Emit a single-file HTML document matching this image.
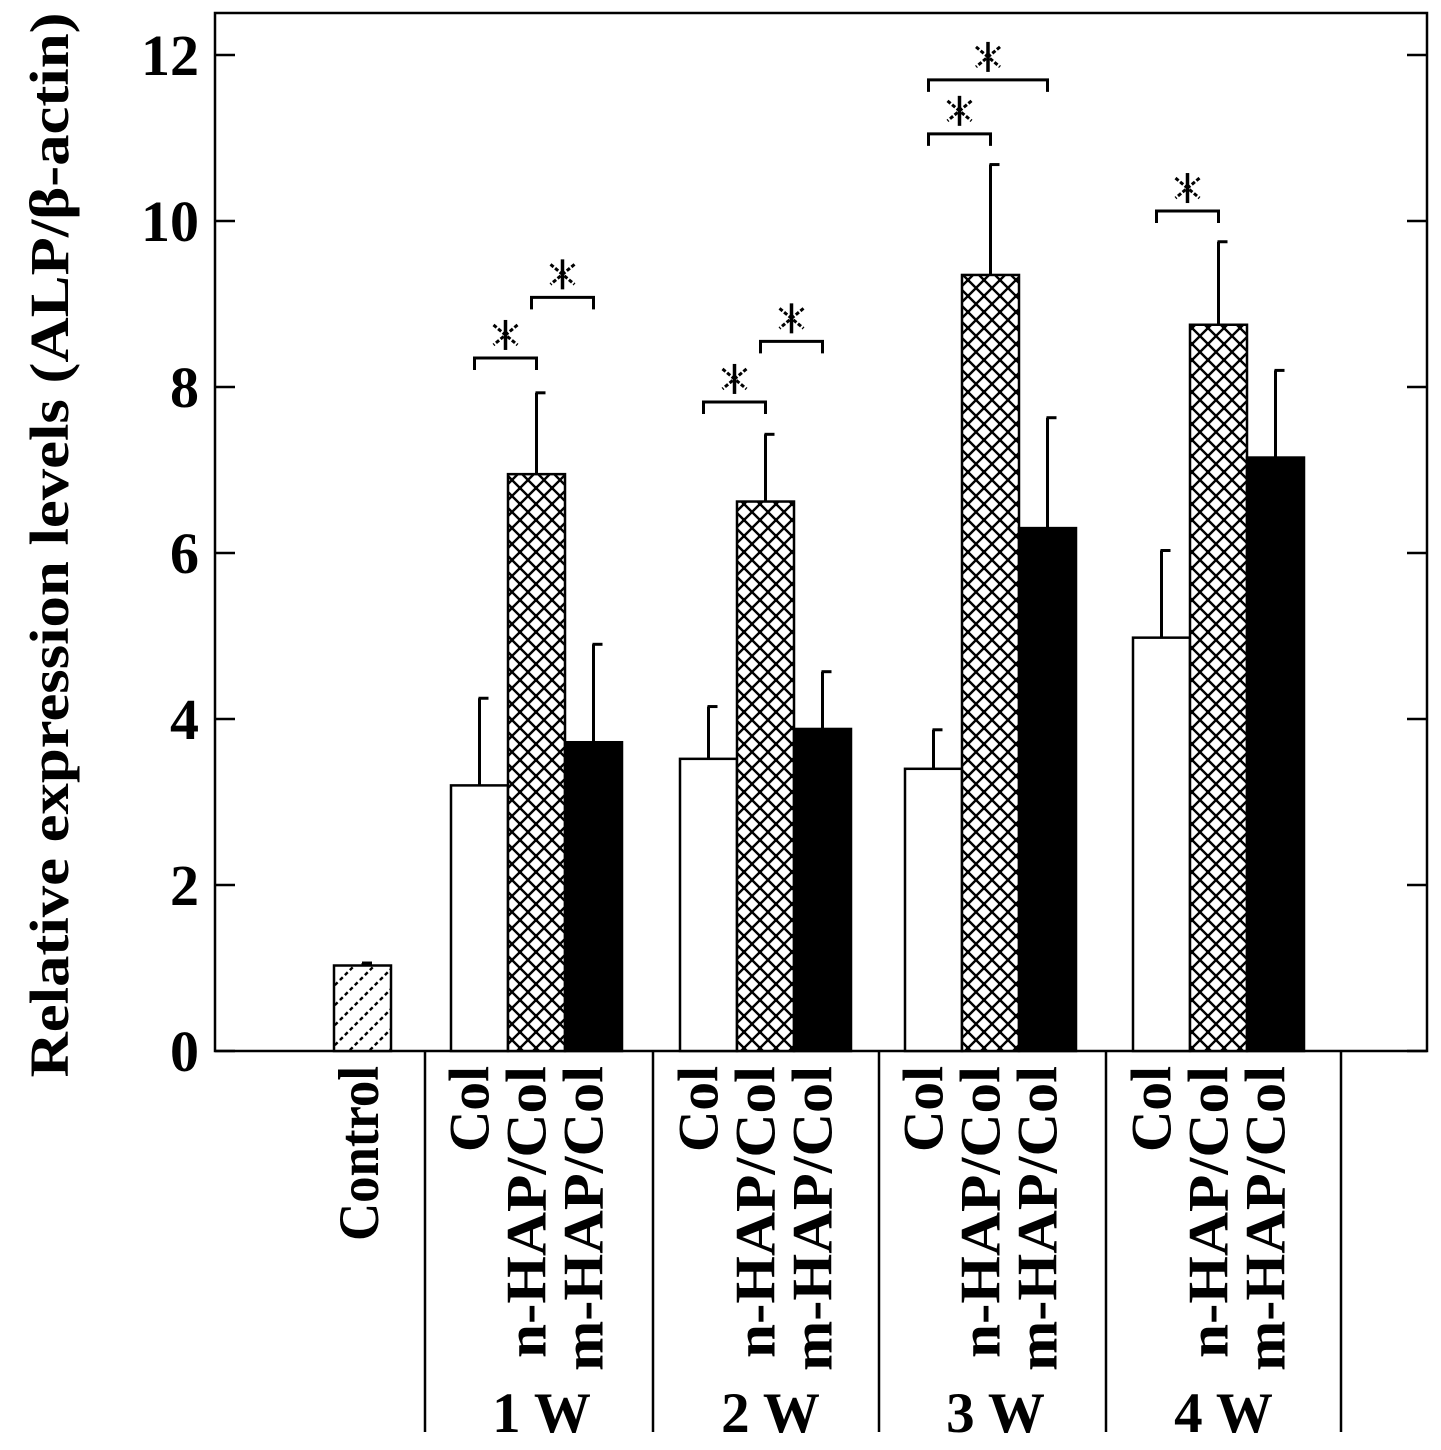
<!DOCTYPE html>
<html><head><meta charset="utf-8"><style>
html,body{margin:0;padding:0;background:#fff;}
svg{display:block;}
text{font-family:"Liberation Serif",serif;font-weight:bold;fill:#000;}
</style></head><body>
<svg id="chart" width="1441" height="1450" viewBox="0 0 1441 1450" xmlns="http://www.w3.org/2000/svg">
<defs>
<pattern id="cross" patternUnits="userSpaceOnUse" width="16" height="16">
<rect width="16" height="16" fill="#fff"/>
<path d="M0,0 L16,16 M16,0 L0,16" stroke="#000" stroke-width="2.4"/>
<rect x="6" y="6" width="4" height="4" fill="#000"/>
</pattern>
<pattern id="diag" patternUnits="userSpaceOnUse" width="20" height="20">
<rect width="20" height="20" fill="#fff"/>
<path d="M-5,25 L25,-5 M-5,5 L5,-5 M15,25 L25,15" stroke="#000" stroke-width="2.4" stroke-dasharray="4,3"/>
</pattern>
</defs>
<g id="plot"></g>
</svg>
<script>
const groups = ["Control","1 W","2 W","3 W","4 W"];
const seriesNames = ["Col","n-HAP/Col","m-HAP/Col"];
const controlValue = 1.03;
const controlErr = 1.06;
const colValues = [3.2, 3.52, 3.4, 4.98];
const colErr = [4.25, 4.15, 3.87, 6.03];
const nhapValues = [6.95, 6.62, 9.35, 8.75];
const nhapErr = [7.93, 7.43, 10.68, 9.75];
const mhapValues = [3.72, 3.88, 6.3, 7.15];
const mhapErr = [4.9, 4.57, 7.63, 8.2];
const yTicks = [0,2,4,6,8,10,12];
// significance: [groupIndex, barA, barB, value level]
const sigPairs = [[0,0,1,8.35],[0,1,2,9.08],[1,0,1,7.82],[1,1,2,8.55],[2,0,1,11.05],[2,0,2,11.7],[3,0,1,10.12]];

const NS="http://www.w3.org/2000/svg";
const g=document.getElementById('plot');
const L=215,R=1427,T=13,B=1051;
const y=v=>B-v*83;
const groupStart=[451,680,905,1133];
const bw=57;
const barX=(gi,bi)=>groupStart[gi]+bi*bw;
function el(tag,attrs,parent){const e=document.createElementNS(NS,tag);for(const k in attrs)e.setAttribute(k,attrs[k]);(parent||g).appendChild(e);return e;}

const frame=el('rect',{x:L,y:T,width:R-L,height:B-T,fill:'none',stroke:'#000','stroke-width':2.5});



yTicks.forEach(t=>{
  const tl=el('line',{x1:L,x2:L+20,y1:y(t),y2:y(t),stroke:'#000','stroke-width':2.5});
  
  
  const tr=el('line',{x1:R-20,x2:R,y1:y(t),y2:y(t),stroke:'#000','stroke-width':2.5});
  
  
  const tx=el('text',{x:199,y:y(t)+20,'text-anchor':'end','font-size':58});
  tx.textContent=t;
  
  
});

const yt=el('text',{transform:'translate(68,545) rotate(-90)','text-anchor':'middle','font-size':55,textLength:1065,lengthAdjust:'spacingAndGlyphs'});
yt.textContent='Relative expression levels (ALP/\u03b2-actin)';



function errBar(cx,top,base){
  const a=el('line',{x1:cx,x2:cx,y1:y(top),y2:y(base),stroke:'#000','stroke-width':3});
  
  
  const c=el('line',{x1:cx-1,x2:cx+9,y1:y(top),y2:y(top),stroke:'#000','stroke-width':3});
  
  
}
function bar(x,v,fill,name){
  const r=el('rect',{x:x,y:y(v),width:bw,height:B-y(v),fill:fill,stroke:'#000','stroke-width':2.5});
  
  
}
errBar(363,controlErr,controlValue);
bar(334,controlValue,'url(#diag)','bar-control');
const fills=['#fff','url(#cross)','#000'];
const vals=[colValues,nhapValues,mhapValues];
const errs=[colErr,nhapErr,mhapErr];
const nm=['col','nhap-col','mhap-col'];
for(let gi=0;gi<4;gi++){
  for(let bi=0;bi<3;bi++){
    const x=barX(gi,bi);
    errBar(x+bw/2,errs[bi][gi],vals[bi][gi]);
    bar(x,vals[bi][gi],fills[bi],'bar-'+nm[bi]+'-w'+(gi+1));
  }
}
sigPairs.forEach(s=>{
  const x1=barX(s[0],s[1])+bw/2-5, x2=barX(s[0],s[2])+bw/2;
  const yy=y(s[3]);
  const p=el('path',{d:`M${x1},${yy+12} V${yy} H${x2} V${yy+12}`,fill:'none',stroke:'#000','stroke-width':3});
  
  
  const cx=(x1+x2)/2, cy=yy-23;
  const st=el('g',{});
  
  
  el('line',{x1:cx,x2:cx,y1:cy-15,y2:cy+15,stroke:'#000','stroke-width':3.5},st);
  el('line',{x1:cx-12,x2:cx+12,y1:cy-10,y2:cy+10,stroke:'#000','stroke-width':3,'stroke-dasharray':'4,2'},st);
  el('line',{x1:cx+12,x2:cx-12,y1:cy-10,y2:cy+10,stroke:'#000','stroke-width':3,'stroke-dasharray':'4,2'},st);
});
[425,653,879,1106,1341].forEach(x=>{
  const l=el('line',{x1:x,x2:x,y1:B,y2:1432,stroke:'#000','stroke-width':2.5});
  
  
});
function vlabel(bx,txt,len,name){
  const t=el('text',{transform:`translate(${bx},1066) rotate(-90)`,'text-anchor':'end','font-size':57,textLength:len,lengthAdjust:'spacingAndGlyphs'});
  t.textContent=txt;
  
  
}
vlabel(378,groups[0],175,'label-control');
const lens=[86,292,305];
for(let gi=0;gi<4;gi++){
  for(let bi=0;bi<3;bi++){
    vlabel(barX(gi,bi)+bw/2+9,seriesNames[bi],lens[bi],'label-'+nm[bi]+'-w'+(gi+1));
  }
  const gt=el('text',{x:barX(gi,1)+bw/2+5,y:1432,'text-anchor':'middle','font-size':57});
  gt.textContent=groups[gi+1];
  
  
}
</script>
</body></html>
